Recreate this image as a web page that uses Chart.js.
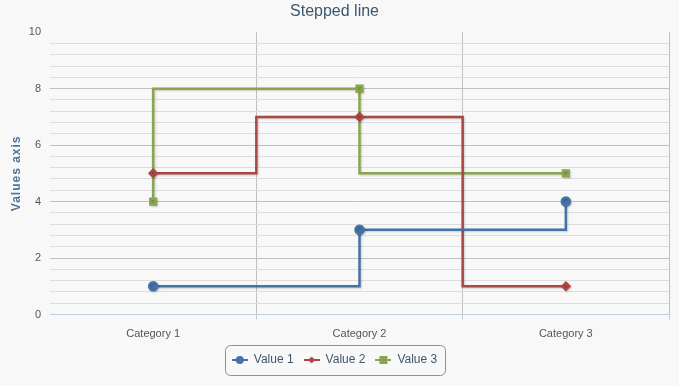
<!DOCTYPE html>
<html>
<head>
<meta charset="utf-8">
<script src="https://cdn.jsdelivr.net/npm/chart.js@4"></script>
<style>
  html, body { margin: 0; padding: 0; background: #f8f8f8; }
  #wrap { width: 679px; height: 386px; }
</style>
</head>
<body>
<div id="wrap"><canvas id="chart" width="679" height="386"></canvas></div>
<script>
// Categories and series values
const categories = ['Category 1', 'Category 2', 'Category 3'];
const value1 = [1, 3, 4];
const value2 = [5, 7, 1];
const value3 = [4, 8, 5];
const seriesNames = ['Value 1', 'Value 2', 'Value 3'];
const yTickLabels = [0, 2, 4, 6, 8, 10];
const yAxisTitle = 'Values axis';

const colors = ['#4572a7', '#aa4643', '#89a54e'];
const pointStyles = ['circle', 'rectRot', 'rect'];

// Small legend symbol: a short line with the series marker in the middle
function legendSymbol(color, style) {
  const c = document.createElement('canvas');
  c.width = 16; c.height = 10;
  const g = c.getContext('2d');
  g.strokeStyle = color; g.fillStyle = color; g.lineWidth = 2;
  g.beginPath(); g.moveTo(0, 5); g.lineTo(16, 5); g.stroke();
  g.beginPath();
  if (style === 'circle') { g.arc(8, 5, 4, 0, Math.PI * 2); }
  else if (style === 'rectRot') { g.moveTo(8, 1.5); g.lineTo(11.5, 5); g.lineTo(8, 8.5); g.lineTo(4.5, 5); g.closePath(); }
  else { g.rect(4, 1, 8, 8); }
  g.fill();
  return c;
}

// Drop shadow under the series lines
const lineShadow = {
  id: 'lineShadow',
  beforeDatasetDraw(chart) {
    const ctx = chart.ctx;
    ctx.save();
    ctx.shadowColor = 'rgba(0,0,0,0.18)';
    ctx.shadowOffsetX = 1;
    ctx.shadowOffsetY = 1;
    ctx.shadowBlur = 2;
  },
  afterDatasetDraw(chart) { chart.ctx.restore(); }
};

// Rounded frame around the legend items
const legendFrame = {
  id: 'legendFrame',
  afterDraw(chart) {
    const boxes = chart.legend.legendHitBoxes;
    if (!boxes || !boxes.length) return;
    const l = Math.min(...boxes.map(b => b.left)) - 7;
    const r = Math.max(...boxes.map(b => b.left + b.width)) + 8;
    const t = Math.min(...boxes.map(b => b.top)) - 9;
    const bt = Math.max(...boxes.map(b => b.top + b.height)) + 9;
    const ctx = chart.ctx;
    ctx.save();
    ctx.strokeStyle = '#909090';
    ctx.lineWidth = 1;
    ctx.beginPath();
    ctx.roundRect(Math.round(l) + 0.5, Math.round(t) + 0.5, Math.round(r - l), Math.round(bt - t), 5);
    ctx.stroke();
    ctx.restore();
  }
};

// Letter-spaced vertical title of the value axis
const yTitle = {
  id: 'yTitle',
  afterDraw(chart) {
    const ctx = chart.ctx;
    const a = chart.chartArea;
    ctx.save();
    ctx.translate(16.5, (a.top + a.bottom) / 2);
    ctx.rotate(-Math.PI / 2);
    ctx.font = 'bold 12px "Liberation Sans"';
    ctx.letterSpacing = '1px';
    ctx.fillStyle = '#4d759e';
    ctx.textAlign = 'center';
    ctx.textBaseline = 'middle';
    ctx.fillText(yAxisTitle, 0, 0);
    ctx.restore();
  }
};

const bgFill = {
  id: 'bgFill',
  beforeDraw(chart) {
    const ctx = chart.ctx;
    ctx.save();
    ctx.fillStyle = '#f8f8f8';
    ctx.fillRect(0, 0, chart.width, chart.height);
    ctx.restore();
  }
};

const seriesData = [value1, value2, value3];
const steppedModes = ['before', 'middle', 'after'];

const isMajor = v => yTickLabels.some(t => Math.abs(t - v) < 1e-6);

new Chart(document.getElementById('chart'), {
  type: 'line',
  data: {
    labels: categories,
    datasets: seriesData.map((d, i) => ({
      label: seriesNames[i],
      data: d,
      stepped: steppedModes[i],
      borderColor: colors[i],
      backgroundColor: colors[i],
      borderWidth: 2.5,
      pointStyle: pointStyles[i],
      pointRadius: i === 1 ? 3.5 : 4,
      pointHoverRadius: 5,
      fill: false
    }))
  },
  options: {
    responsive: false,
    animation: false,
    layout: { padding: { left: 0, right: 10, top: 0, bottom: 10 } },
    plugins: {
      title: {
        display: true,
        text: 'Stepped line',
        color: '#3e576f',
        font: { family: 'Liberation Sans', size: 16, weight: 'normal' },
        padding: { top: 2, bottom: 11 }
      },
      legend: {
        position: 'bottom',
        labels: {
          color: '#3e576f',
          font: { family: 'Liberation Sans', size: 12 },
          usePointStyle: true,
          pointStyleWidth: 16,
          padding: 10,
          generateLabels(chart) {
            return chart.data.datasets.map((ds, i) => ({
              text: ds.label,
              fillStyle: colors[i],
              strokeStyle: colors[i],
              fontColor: '#3e576f',
              pointStyle: legendSymbol(colors[i], pointStyles[i]),
              lineWidth: 0,
              hidden: false,
              datasetIndex: i
            }));
          }
        }
      },
      tooltip: { enabled: false }
    },
    scales: {
      x: {
        offset: true,
        afterFit(scale) { scale.height = 29.5; },
        grid: {
          offset: true,
          color: ctx => ctx.index === 0 ? 'rgba(0,0,0,0)' : '#c0c0c0',
          tickColor: ctx => ctx.index === 0 ? 'rgba(0,0,0,0)' : '#c0c8d8',
          tickLength: 5,
          drawOnChartArea: true
        },
        border: { color: '#c0d0e0' },
        ticks: {
          color: '#555',
          font: { family: 'Liberation Sans', size: 11 },
          padding: 8
        }
      },
      y: {
        min: 0,
        max: 10,
        afterFit(scale) { scale.width = 50; },
        grid: {
          color: ctx => {
            const v = ctx.tick ? ctx.tick.value : 0;
            if (Math.abs(v - 10) < 1e-6) return 'rgba(0,0,0,0)';
            return isMajor(v) ? '#c0c0c0' : '#dddddd';
          },
          drawTicks: false
        },
        border: { display: false },
        ticks: {
          stepSize: 0.4,
          autoSkip: false,
          padding: 9,
          color: '#555',
          font: { family: 'Liberation Sans', size: 11 },
          callback: v => isMajor(v) ? String(Math.round(v)) : ''
        }
      }
    }
  },
  plugins: [bgFill, lineShadow, legendFrame, yTitle]
});
</script>
</body>
</html>
